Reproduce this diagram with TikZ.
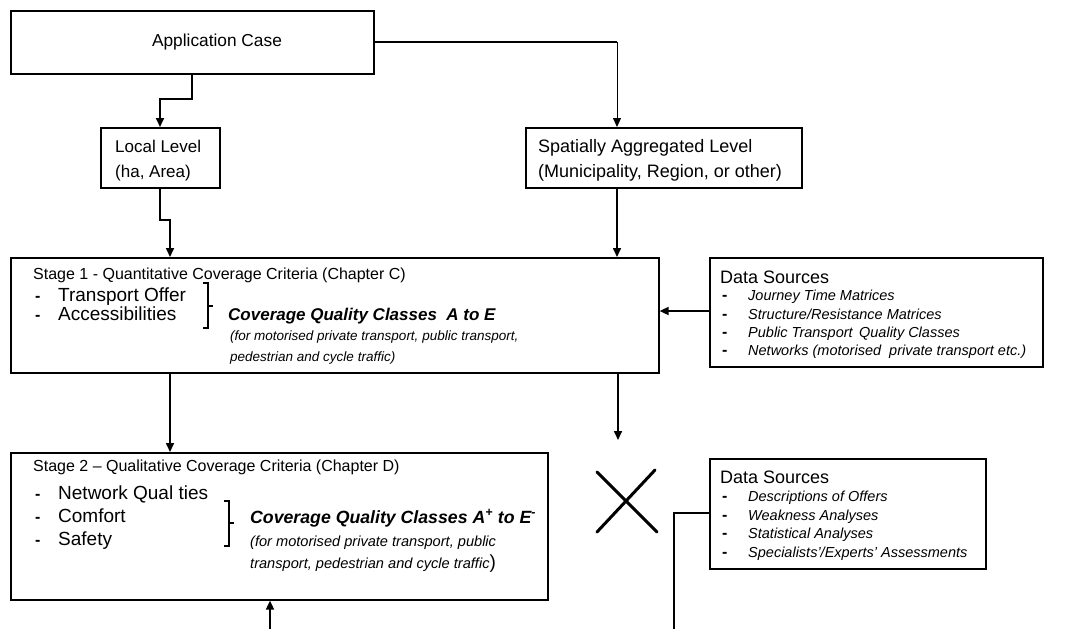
\documentclass[tikz,border=0pt]{standalone}
\usepackage{fontspec}
\setmainfont{Liberation Sans}
\usetikzlibrary{arrows.meta}
\begin{document}
\begin{tikzpicture}[x=1pt,y=-1pt,
  box/.style={draw=black,line width=1.6pt,fill=white,anchor=north west,inner sep=0pt},
  conn/.style={line width=1.6pt,-{Triangle[length=9pt,width=8pt]}},
  thinconn/.style={line width=1pt},
  plain/.style={line width=1.6pt},
  lbl/.style={anchor=base west,inner sep=0pt,font=\fontsize{17}{19}\selectfont},
  lblbig/.style={anchor=base west,inner sep=0pt,font=\fontsize{18}{20}\selectfont},
  item/.style={anchor=base west,inner sep=0pt,font=\fontsize{19}{21}\selectfont},
  ttl/.style={anchor=base west,inner sep=0pt,font=\fontsize{16}{18}\selectfont},
  cov/.style={anchor=base west,inner sep=0pt,font=\fontsize{17}{19}\selectfont\bfseries\itshape},
  covb/.style={anchor=base west,inner sep=0pt,font=\fontsize{17.7}{19}\selectfont\bfseries\itshape},
  sub/.style={anchor=base west,inner sep=0pt,font=\fontsize{13.5}{15}\selectfont\itshape},
  subb/.style={anchor=base west,inner sep=0pt,font=\fontsize{14.6}{16}\selectfont\itshape},
  dsttl/.style={anchor=base west,inner sep=0pt,font=\fontsize{18}{20}\selectfont},
  dsitem/.style={anchor=base west,inner sep=0pt,font=\fontsize{14.5}{15}\selectfont\itshape},
  bullet/.style={anchor=base west,inner sep=0pt,font=\fontsize{16}{17}\selectfont\bfseries},
  brack/.style={line width=1.6pt},
  cross/.style={line width=3pt,line cap=round}
]
\useasboundingbox[fill=white] (0,0) rectangle (1065,629);

% boxes
\node[box,minimum width=363pt,minimum height=63pt] (app) at (10,10) {};
\node[anchor=center,inner sep=0pt,font=\fontsize{17.3}{19}\selectfont] (apptxt) at (217,42) {Application Case};

\node[box,minimum width=119pt,minimum height=60pt] (local) at (100,127) {};
\node[lbl] (localt1) at (115,152) {Local Level};
\node[lbl] (localt2) at (115,177) {(ha, Area)};

\node[box,minimum width=276pt,minimum height=60pt] (spat) at (525,127) {};
\node[lblbig] (spatt1) at (538,152) {Spatially Aggregated Level};
\node[lblbig] (spatt2) at (538,177) {(Municipality, Region, or other)};

\node[box,minimum width=648pt,minimum height=115pt] (s1) at (10,257) {};
\node[ttl] (s1t) at (33,279) {Stage 1 - Quantitative Coverage Criteria (Chapter C)};
\node[bullet] (s1d1) at (35,301) {-};
\node[item] (s1i1) at (58,301) {Transport Offer};
\node[bullet] (s1d2) at (35,320) {-};
\node[item] (s1i2) at (58,320) {Accessibilities};
\draw[brack] (203,283) -- (208,283) -- (208,328) -- (203,328);
\draw[brack] (208,306) -- (213,306);
\node[cov] (s1c) at (228,320) {Coverage Quality Classes \ A to E};
\node[sub] (s1s1) at (230,340) {(for motorised private transport, public transport,};
\node[sub] (s1s2) at (230,361) {pedestrian and cycle traffic)};

\node[box,minimum width=333pt,minimum height=109pt] (ds1) at (709,257) {};
\node[dsttl] (ds1t) at (720,283) {Data Sources};
\node[bullet] (ds1d1) at (722,300) {-};
\node[dsitem] (ds1i1) at (748,300) {Journey Time Matrices};
\node[bullet] (ds1d2) at (722,319) {-};
\node[dsitem] (ds1i2) at (748,319) {Structure/Resistance Matrices};
\node[bullet] (ds1d3) at (722,337) {-};
\node[dsitem] (ds1i3) at (748,337) {Public Transport \,Quality Classes};
\node[bullet] (ds1d4) at (722,355) {-};
\node[dsitem] (ds1i4) at (748,355) {Networks (motorised \ private transport etc.)};

\node[box,minimum width=537pt,minimum height=147pt] (s2) at (10,452) {};
\node[ttl] (s2t) at (33,471) {Stage 2 – Qualitative Coverage Criteria (Chapter D)};
\node[bullet] (s2d1) at (35,499) {-};
\node[item] (s2i1) at (58,499) {Network Qual ties};
\node[bullet] (s2d2) at (35,522) {-};
\node[item] (s2i2) at (58,522) {Comfort};
\node[bullet] (s2d3) at (35,545) {-};
\node[item] (s2i3) at (58,545) {Safety};
\draw[brack] (224,501) -- (229,501) -- (229,546) -- (224,546);
\draw[brack] (229,523) -- (234,523);
\node[covb] (s2c) at (250,523) {Coverage Quality Classes A\textsuperscript{+} to E\textsuperscript{-}};
\node[subb] (s2s1) at (250,546) {(for motorised private transport, public};
\node[subb] (s2s2) at (250,568) {transport, pedestrian and cycle traffic\upshape\fontsize{19}{19}\selectfont)};

\node[box,minimum width=276pt,minimum height=110pt] (ds2) at (709,458) {};
\node[dsttl] (ds2t) at (720,483) {Data Sources};
\node[bullet] (ds2d1) at (722,501) {-};
\node[dsitem] (ds2i1) at (748,501) {Descriptions of Offers};
\node[bullet] (ds2d2) at (722,520) {-};
\node[dsitem] (ds2i2) at (748,520) {Weakness Analyses};
\node[bullet] (ds2d3) at (722,538) {-};
\node[dsitem] (ds2i3) at (748,538) {Statistical Analyses};
\node[bullet] (ds2d4) at (722,557) {-};
\node[dsitem] (ds2i4) at (748,557) {Specialists'/Experts' Assessments};

% free ends
\coordinate (s1out) at (618,440);
\coordinate (s2in) at (270,629);
\coordinate (ds2out) at (674,629);

% connectors
\draw[conn] ([xshift=182pt]app.south west) |- (160,99) -- (local.north -| 160,0);
\draw[plain] (app.east |- 0,42) -- (617,42);
\draw[thinconn,-{Triangle[length=9pt,width=8pt]}] (617,42) -- (spat.north -| 617,0);
\draw[conn] (local.south -| 160,0) -- (160,220) -- (170,220) -- (s1.north -| 170,0);
\draw[conn] (spat.south -| 617,0) -- (s1.north -| 617,0);
\draw[conn] (ds1.west |- 0,311) -- (s1.east |- 0,311);
\draw[conn] (s1.south -| 170,0) -- (s2.north -| 170,0);
\draw[conn] (s1.south -| 618,0) -- (s1out);
\draw[conn] (s2in) -- (s2.south -| 270,0);
\draw[plain] (ds2.west |- 0,513) -| (ds2out);

% cross
\draw[cross] (597,472) -- (657,532);
\draw[cross] (655,470) -- (597,532);
\end{tikzpicture}
\end{document}
